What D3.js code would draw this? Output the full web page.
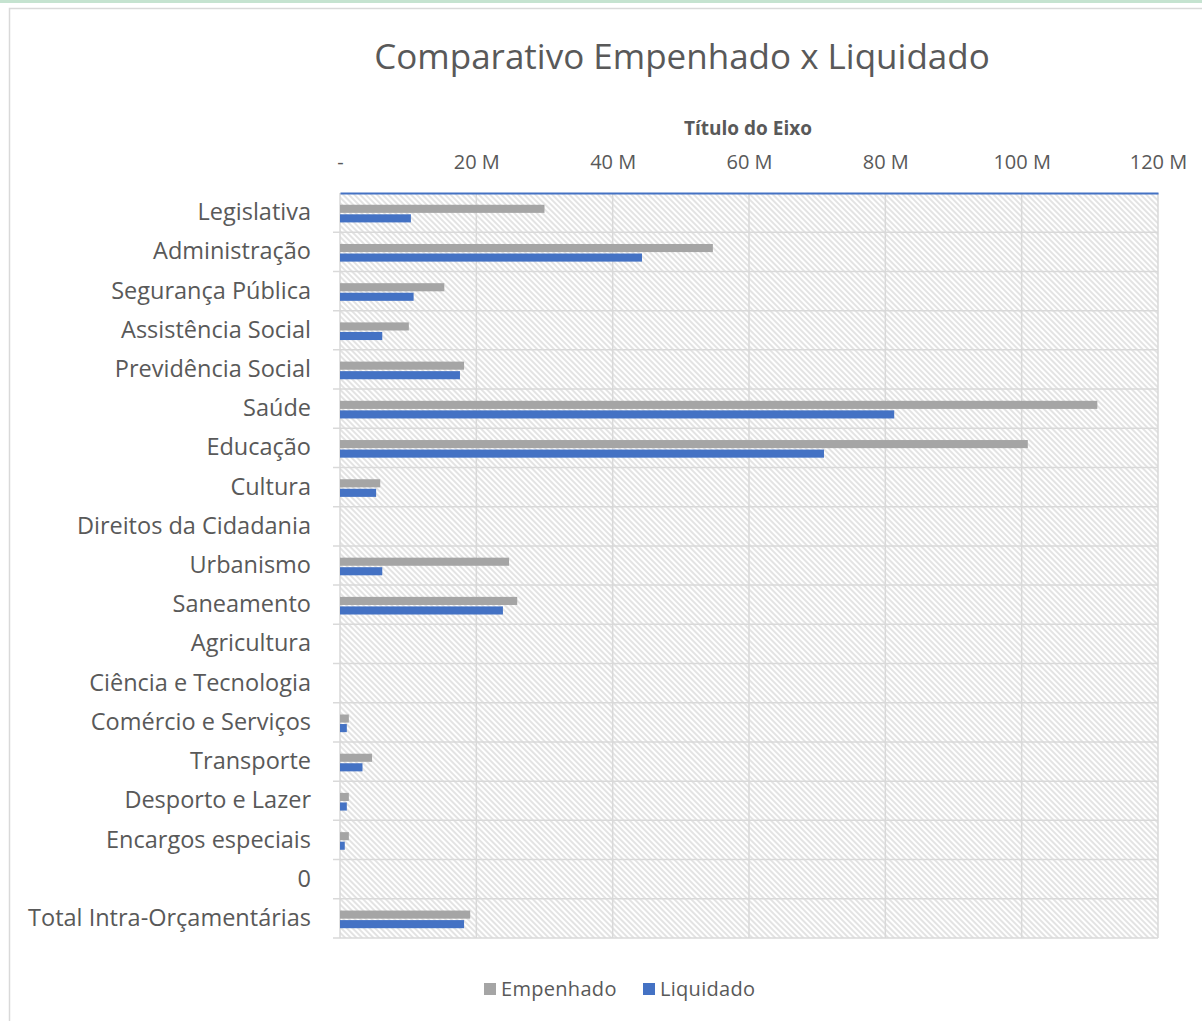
<!DOCTYPE html>
<html>
<head>
<meta charset="utf-8">
<script src="https://cdn.jsdelivr.net/npm/d3@7"></script>
<style>
  body { margin: 0; background: #fff; }
  text { font-family: "Open Sans", sans-serif; }
</style>
</head>
<body>
<div id="mychart"></div>
<script>
// data (values in millions)
var categories = ["Legislativa", "Administração", "Segurança Pública", "Assistência Social",
  "Previdência Social", "Saúde", "Educação", "Cultura", "Direitos da Cidadania", "Urbanismo",
  "Saneamento", "Agricultura", "Ciência e Tecnologia", "Comércio e Serviços", "Transporte",
  "Desporto e Lazer", "Encargos especiais", "0", "Total Intra-Orçamentárias"];
var empenhado = [30.0, 54.7, 15.3, 10.1, 18.2, 111.1, 100.9, 5.9, 0, 24.8, 26.0, 0, 0, 1.3, 4.7, 1.3, 1.3, 0, 19.1];
var liquidado = [10.4, 44.3, 10.8, 6.2, 17.6, 81.3, 71.0, 5.3, 0, 6.2, 23.9, 0, 0, 1.0, 3.3, 1.0, 0.7, 0, 18.2];
var seriesNames = ["Empenhado", "Liquidado"];
var seriesColors = ["#a5a5a5", "#4472c4"];
var tickValues = [0, 20, 40, 60, 80, 100, 120];

var W = 1202, H = 1021;
var margin = {left: 340, right: 44, top: 193, bottom: 83};
var width = W - margin.left - margin.right,
    height = H - margin.top - margin.bottom;

var svgRoot = d3.select("#mychart")
  .append("svg")
    .attr("width", W)
    .attr("height", H);

// top green strip and chart frame
svgRoot.append("rect").attr("x", 0).attr("y", 0).attr("width", W).attr("height", 3).attr("fill", "#c5e3d0");
svgRoot.append("rect")
  .attr("x", 9.5).attr("y", 8.5).attr("width", W).attr("height", H)
  .attr("fill", "#fff").attr("stroke", "#d9d9d9").attr("stroke-width", 1.5);

// hatch pattern for plot area
var defs = svgRoot.append("defs");
var pat = defs.append("pattern")
  .attr("id", "hatch")
  .attr("patternUnits", "userSpaceOnUse")
  .attr("width", 4).attr("height", 4)
  .attr("patternTransform", "rotate(-45)");
pat.append("rect").attr("width", 4).attr("height", 4).attr("fill", "#fff");
pat.append("line").attr("x1", 1).attr("y1", 0).attr("x2", 1).attr("y2", 4)
  .attr("stroke", "#dcdcdc").attr("stroke-width", 1.6);

var svg = svgRoot.append("g")
  .attr("transform", "translate(" + margin.left + "," + margin.top + ")");

var x = d3.scaleLinear().domain([0, 120]).range([0, width]);
var y = d3.scaleBand().domain(categories).range([0, height]).padding(0);
var bw = y.bandwidth();
var ySub = d3.scaleBand().domain(seriesNames)
  .range([bw * 0.30, bw * 0.75]).paddingInner(0.15);

// plot background
svg.append("rect").attr("width", width).attr("height", height).attr("fill", "url(#hatch)");

// gridlines
svg.append("g").selectAll("line")
  .data(tickValues.slice(1))
  .join("line")
    .attr("x1", d => x(d)).attr("x2", d => x(d))
    .attr("y1", 0).attr("y2", height)
    .attr("stroke", "#d9d9d9").attr("stroke-width", 1.5);
svg.append("g").selectAll("line")
  .data(categories.slice(1).concat(["__end"]))
  .join("line")
    .attr("x1", -7).attr("x2", width)
    .attr("y1", d => d === "__end" ? height : y(d))
    .attr("y2", d => d === "__end" ? height : y(d))
    .attr("stroke", "#d9d9d9").attr("stroke-width", 1.5);
svg.append("line").attr("x1", 0).attr("x2", 0).attr("y1", 0).attr("y2", height)
  .attr("stroke", "#d9d9d9").attr("stroke-width", 1.5);

// bars
var rows = categories.map(function(c, i) {
  return {cat: c, vals: [empenhado[i], liquidado[i]]};
});
var grp = svg.selectAll(".row")
  .data(rows)
  .join("g")
    .attr("class", "row")
    .attr("transform", d => "translate(0," + y(d.cat) + ")");
grp.selectAll("rect")
  .data(d => d.vals.map((v, j) => ({name: seriesNames[j], v: v, c: seriesColors[j]})))
  .join("rect")
    .attr("x", 0)
    .attr("y", d => ySub(d.name))
    .attr("width", d => x(d.v))
    .attr("height", ySub.bandwidth())
    .attr("fill", d => d.c);

// top axis
var xAxis = d3.axisTop(x)
  .tickValues(tickValues)
  .tickSize(0)
  .tickPadding(24)
  .tickFormat(d => d === 0 ? "-" : d + " M");
var gx = svg.append("g").call(xAxis);
gx.select(".domain").attr("stroke", "#4472c4").attr("stroke-width", 2);
gx.selectAll("text").attr("fill", "#595959").style("font-size", "20px")
  .style("font-family", "'Open Sans', sans-serif");

// left axis labels
var yAxis = d3.axisLeft(y).tickSize(0).tickPadding(29);
var gy = svg.append("g").call(yAxis);
gy.select(".domain").remove();
gy.selectAll("text").attr("fill", "#595959").style("font-size", "23.5px")
  .style("font-family", "'Open Sans', sans-serif");

// axis title
svg.append("text")
  .attr("x", 748 - margin.left).attr("y", 135 - margin.top)
  .attr("text-anchor", "middle")
  .attr("fill", "#595959")
  .style("font-size", "19px").style("font-weight", "bold")
  .text("Título do Eixo");

// chart title
svgRoot.append("text")
  .attr("x", 682).attr("y", 69)
  .attr("text-anchor", "middle")
  .attr("fill", "#595959")
  .style("font-size", "35px")
  .text("Comparativo Empenhado x Liquidado");

// legend
var legend = svgRoot.append("g").attr("transform", "translate(484,989)");
var items = legend.selectAll("g")
  .data(seriesNames)
  .join("g")
    .attr("transform", (d, i) => "translate(" + (i * 159) + ",0)");
items.append("rect").attr("x", 0).attr("y", -6).attr("width", 12).attr("height", 12)
  .attr("fill", (d, i) => seriesColors[i]);
items.append("text").attr("x", 17).attr("y", 7)
  .attr("fill", "#595959").style("font-size", "20px")
  .style("letter-spacing", "0.3px")
  .text(d => d);
</script>
</body>
</html>
